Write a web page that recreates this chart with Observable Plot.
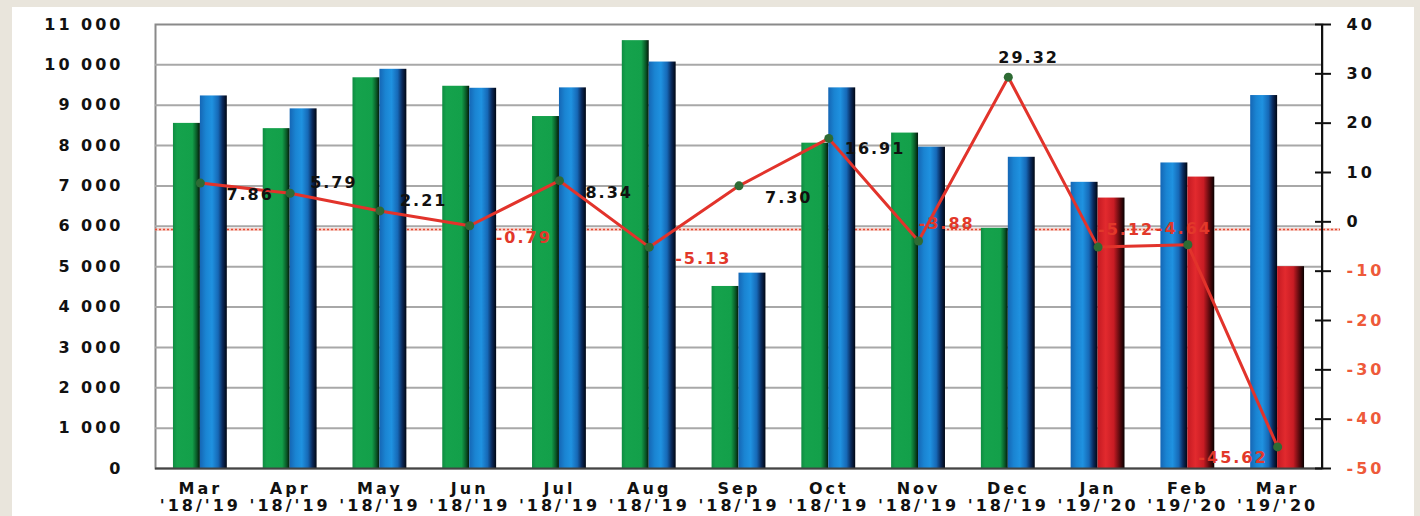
<!DOCTYPE html>
<html><head><meta charset="utf-8">
<script src="https://cdn.jsdelivr.net/npm/d3@7"></script>
<script src="https://cdn.jsdelivr.net/npm/@observablehq/plot@0.6"></script>
<style>
html,body{margin:0;padding:0;background:#e9e5dc;overflow:hidden;}
#wrap{position:absolute;left:12px;top:7px;width:1402px;height:509px;background:#fff;}
#chart{position:absolute;left:0;top:0;}
</style></head><body>
<div id="wrap"></div>
<svg width="0" height="0" style="position:absolute">
<defs>
<linearGradient id="gGreen" x1="0" x2="1" y1="0" y2="0">
<stop offset="0" stop-color="#0f8c42"/><stop offset="0.15" stop-color="#15a24c"/><stop offset="0.72" stop-color="#13a04a"/><stop offset="0.88" stop-color="#0a5a28"/><stop offset="1" stop-color="#02180a"/>
</linearGradient>
<linearGradient id="gBlue" x1="0" x2="1" y1="0" y2="0">
<stop offset="0" stop-color="#1566b5"/><stop offset="0.22" stop-color="#1a84d2"/><stop offset="0.45" stop-color="#1f92e0"/><stop offset="0.68" stop-color="#1668b6"/><stop offset="0.84" stop-color="#0a2a5c"/><stop offset="1" stop-color="#000612"/>
</linearGradient>
<linearGradient id="gRed" x1="0" x2="1" y1="0" y2="0">
<stop offset="0" stop-color="#c41a22"/><stop offset="0.3" stop-color="#e22a2e"/><stop offset="0.6" stop-color="#c81c24"/><stop offset="0.82" stop-color="#5a0a0e"/><stop offset="1" stop-color="#080000"/>
</linearGradient>
</defs></svg>
<div id="chart"></div>
<script>
// ---- data ----
const categories = ["Mar '18/'19","Apr '18/'19","May '18/'19","Jun '18/'19","Jul '18/'19","Aug '18/'19","Sep '18/'19","Oct '18/'19","Nov '18/'19","Dec '18/'19","Jan '19/'20","Feb '19/'20","Mar '19/'20"];
const greenValues = [8550, 8420, 9680, 9470, 8720, 10600, 4510, 8060, 8310, 5950];           // Mar–Dec '18/'19, first bar
const blueValues  = [9230, 8910, 9890, 9420, 9430, 10070, 4840, 9430, 7960, 7710, 7090, 7570, 9240];
const redValues   = [6700, 7220, 5000];                                                         // Jan–Mar '19/'20, second bar
const changePct   = [7.86, 5.79, 2.21, -0.79, 8.34, -5.13, 7.30, 16.91, -3.88, 29.32, -5.12, -4.64, -45.62];
const leftTicks   = [0,1000,2000,3000,4000,5000,6000,7000,8000,9000,10000,11000];
const rightTicks  = [-50,-40,-30,-20,-10,0,10,20,30,40];
const refLine     = 5920;
// label placement style (per category): br=below-right, ar=above-right, at=above-tight, a=above, ab=above-shifted, l=left
const labelPlace  = ["br","ar","ar","br","br","br","br","bt","at","a","at","ab","l"];

// ---- layout ----
const W = 1420, H = 516, mL = 155, mR = 98, mT = 24, mB = 48;
const leftMax = 11000, rMin = -50, rMax = 40;
const toLeft = v => (v - rMin) * leftMax / (rMax - rMin);
const n = categories.length;
const pIn = 0.4, pOut = 0.2;
const step = (W - mL - mR) / (n - pIn + 2 * pOut);
const half = step * (1 - pIn) / 2;

const nG = greenValues.length;
const greenBars = greenValues.map((v, i) => ({cat: categories[i], value: v}));
const blueFirst = blueValues.map((v, i) => ({cat: categories[i], value: v, i})).filter(d => d.i >= nG);
const blueSecond = blueValues.map((v, i) => ({cat: categories[i], value: v, i})).filter(d => d.i < nG);
const redBars = redValues.map((v, i) => ({cat: categories[nG + i], value: v}));
const linePts = changePct.map((v, i) => ({cat: categories[i], pct: v, place: labelPlace[i]}));

const fmtLeft = d => d3.format(",")(d).replace(",", " ");
const lbl = (place, opts) => [
  Plot.text(linePts.filter(d => d.place === place && d.pct >= 0), {x: "cat", y: d => toLeft(d.pct), text: d => d.pct.toFixed(2), fill: "#111", ...opts}),
  Plot.text(linePts.filter(d => d.place === place && d.pct < 0), {x: "cat", y: d => toLeft(d.pct), text: d => d.pct.toFixed(2), fill: "#e2382a", ...opts})
];
const rightFmt = v => String(Math.round(v * (rMax - rMin) / leftMax + rMin));

const plot = Plot.plot({
  width: W, height: H,
  marginLeft: mL, marginRight: mR, marginTop: mT, marginBottom: mB,
  style: {background: "transparent", fontFamily: "'DejaVu Sans', sans-serif", fontWeight: "bold", fontSize: "16px", letterSpacing: "2px", color: "#111"},
  x: {domain: categories, paddingInner: pIn, paddingOuter: pOut, round: false, axis: null},
  y: {domain: [0, leftMax], axis: null},
  marks: [
    Plot.frame({stroke: "#8a8a8a", strokeWidth: 2, fill: "#fff"}),
    Plot.gridY(leftTicks.filter(v => v > 0 && v < leftMax), {stroke: "#a8a8a8", strokeOpacity: 1, strokeWidth: 2}),
    Plot.ruleY([refLine], {stroke: "#f0a090", strokeWidth: 3, strokeOpacity: 0.5, insetRight: -18}),
    Plot.ruleY([refLine], {stroke: "#e24a34", strokeWidth: 1.5, strokeDasharray: "2,2", insetRight: -18}),
    Plot.barY(greenBars, {x: "cat", y: "value", fill: "url(#gGreen)", insetRight: half}),
    Plot.barY(blueFirst, {x: "cat", y: "value", fill: "url(#gBlue)", insetRight: half}),
    Plot.barY(blueSecond, {x: "cat", y: "value", fill: "url(#gBlue)", insetLeft: half}),
    Plot.barY(redBars, {x: "cat", y: "value", fill: "url(#gRed)", insetLeft: half}),
    Plot.ruleY([0], {stroke: "#444", strokeWidth: 2}),
    Plot.line(linePts, {x: "cat", y: d => toLeft(d.pct), stroke: "#e2332b", strokeWidth: 3}),
    Plot.dot(linePts, {x: "cat", y: d => toLeft(d.pct), r: 4.5, fill: "#2e6b34"}),
    ...lbl("br", {textAnchor: "start", dx: 26, dy: 12}),
    ...lbl("bt", {textAnchor: "start", dx: 16, dy: 10}),
    ...lbl("ar", {textAnchor: "start", dx: 20, dy: -10}),
    ...lbl("at", {textAnchor: "start", dx: 0, dy: -17}),
    ...lbl("a", {textAnchor: "start", dx: -10, dy: -19}),
    ...lbl("ab", {textAnchor: "start", dx: -32, dy: -16}),
    ...lbl("l", {textAnchor: "end", dx: -10, dy: 11}),
    Plot.axisX({tickSize: 0, tickPadding: 14, tickFormat: d => d.replace(" ", "\n"), lineHeight: 1.05, label: null, fill: "#111"}),
    Plot.axisY(leftTicks, {anchor: "left", tickSize: 0, tickPadding: 32, tickFormat: fmtLeft, label: null, fill: "#111"}),
    Plot.axisY(rightTicks.map(toLeft), {anchor: "right", tickSize: 16, dx: -8, tickFormat: () => "", label: null, stroke: "#111", strokeWidth: 2}),
    Plot.axisY(rightTicks.filter(v => v >= 0).map(toLeft), {anchor: "right", tickSize: 0, tickPadding: 24, tickFormat: rightFmt, label: null, fill: "#111"}),
    Plot.axisY(rightTicks.filter(v => v < 0).map(toLeft), {anchor: "right", tickSize: 0, tickPadding: 24, tickFormat: rightFmt, label: null, fill: "#ee5a3a"})
  ]
});
// slightly wider tracking on axis tick labels, as in the reference
d3.select(plot).selectAll("g[aria-label='x-axis tick label'], g[aria-label='y-axis tick label']")
  .style("letter-spacing", "3px");
d3.select(plot).append("line")
  .attr("x1", W - mR).attr("x2", W - mR).attr("y1", mT).attr("y2", H - mB)
  .attr("stroke", "#111").attr("stroke-width", 2);
document.getElementById("chart").appendChild(plot);
</script>
</body></html>
